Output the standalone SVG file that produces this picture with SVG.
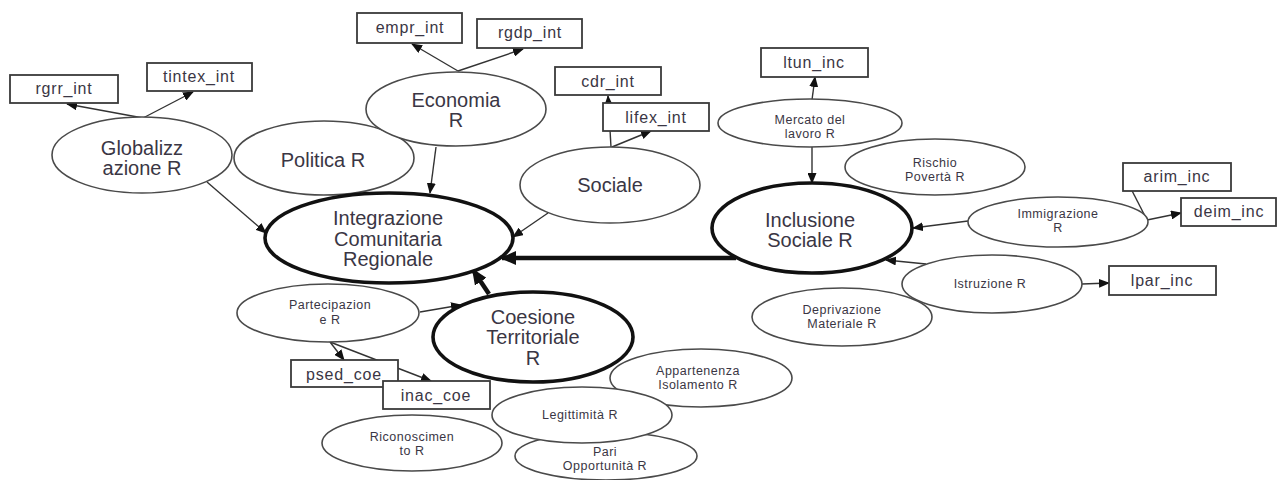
<svg xmlns="http://www.w3.org/2000/svg" width="1277" height="480" viewBox="0 0 1277 480">
  <style>
    .bg { fill: #ffffff; }
    .ell { fill: #ffffff; stroke: #4a4a4a; stroke-width: 1.6; }
    .main { fill: #ffffff; stroke: #111111; stroke-width: 3.6; }
    .box { fill: #ffffff; stroke: #3a3a3a; stroke-width: 1.8; }
    .edge { fill: none; stroke: #333333; stroke-width: 1.4; marker-end: url(#arr); }
    .plain { fill: none; stroke: #333333; stroke-width: 1.4; }
    .heavy { fill: none; stroke: #111111; stroke-width: 4.5; marker-end: url(#arrBig); }
    text { font-family: "Liberation Sans", Arial, sans-serif; fill: #3a3644; text-anchor: middle; }
    .big { font-size: 20px; }
    .small { font-size: 12.5px; letter-spacing: 0.5px; }
    .lbl { font-size: 16px; letter-spacing: 0.8px; }
  </style>
  <defs>
    <marker id="arr" markerUnits="userSpaceOnUse" markerWidth="11" markerHeight="9" refX="10" refY="4.5" orient="auto">
      <path d="M0,0 L11,4.5 L0,9 z" fill="#111111"/>
    </marker>
    <marker id="arrBig" markerUnits="userSpaceOnUse" markerWidth="16" markerHeight="14" refX="14" refY="7" orient="auto">
      <path d="M0,0 L16,7 L0,14 z" fill="#111111"/>
    </marker>
  </defs>
  <rect class="bg" x="0" y="0" width="1277" height="480"/>

  <!-- connectors -->
  <g id="connectors">
    <line class="edge" x1="143" y1="118" x2="67" y2="104"/>
    <line class="edge" x1="143" y1="118" x2="193" y2="92"/>
    <line class="edge" x1="207" y1="182" x2="266" y2="233"/>
    <line class="edge" x1="458" y1="71" x2="412" y2="44"/>
    <line class="edge" x1="458" y1="71" x2="523" y2="49"/>
    <line class="edge" x1="436" y1="147" x2="430" y2="193"/>
    <line class="edge" x1="611" y1="147" x2="608" y2="96"/>
    <line class="edge" x1="612" y1="147" x2="651" y2="131"/>
    <line class="edge" x1="548" y1="213" x2="513" y2="237"/>
    <line class="heavy" x1="736" y1="258" x2="502" y2="258"/>
    <line class="heavy" x1="489" y1="294" x2="473" y2="270"/>
    <line class="edge" x1="420" y1="312" x2="461" y2="305"/>
    <line class="edge" x1="330" y1="342" x2="344" y2="360"/>
    <line class="edge" x1="330" y1="342" x2="431" y2="381"/>
    <line class="edge" x1="812" y1="100" x2="815" y2="77"/>
    <line class="edge" x1="812" y1="147" x2="812" y2="183"/>
    <line class="edge" x1="968" y1="221" x2="913" y2="228"/>
    <line class="edge" x1="1147" y1="220" x2="1125" y2="177"/>
    <line class="edge" x1="1147" y1="220" x2="1181" y2="213"/>
    <line class="edge" x1="926" y1="264" x2="886" y2="260"/>
    <line class="edge" x1="1082" y1="284" x2="1109" y2="283"/>
  </g>

  <!-- indicator boxes -->
  <g id="rgrr_int"><rect class="box" x="10" y="75" width="108" height="28"/><text class="lbl" x="64" y="94">rgrr_int</text></g>
  <g id="tintex_int"><rect class="box" x="147" y="63" width="105" height="28"/><text class="lbl" x="199" y="82">tintex_int</text></g>
  <g id="empr_int"><rect class="box" x="357" y="13" width="105" height="30"/><text class="lbl" x="410" y="33">empr_int</text></g>
  <g id="rgdp_int"><rect class="box" x="477" y="19" width="105" height="29"/><text class="lbl" x="530" y="38">rgdp_int</text></g>
  <g id="cdr_int"><rect class="box" x="555" y="67" width="106" height="28"/><text class="lbl" x="608" y="87">cdr_int</text></g>
  <g id="lifex_int"><rect class="box" x="603" y="103" width="106" height="28"/><text class="lbl" x="656" y="123">lifex_int</text></g>
  <g id="ltun_inc"><rect class="box" x="761" y="48" width="107" height="29"/><text class="lbl" x="814" y="68">ltun_inc</text></g>
  <g id="arim_inc"><rect class="box" x="1123" y="163" width="108" height="28"/><text class="lbl" x="1177" y="182">arim_inc</text></g>
  <g id="deim_inc"><rect class="box" x="1181" y="198" width="95" height="28"/><text class="lbl" x="1229" y="217">deim_inc</text></g>
  <g id="lpar_inc"><rect class="box" x="1109" y="266" width="107" height="29"/><text class="lbl" x="1162" y="286">lpar_inc</text></g>
  <g id="psed_coe"><rect class="box" x="291" y="360" width="107" height="27"/><text class="lbl" x="344" y="380">psed_coe</text></g>
  <g id="inac_coe"><rect class="box" x="383" y="381" width="107" height="28"/><text class="lbl" x="436" y="401">inac_coe</text></g>

  <!-- latent factor nodes -->
  <g id="globalizzazione"><ellipse class="ell" cx="142" cy="155" rx="90" ry="38"/><text class="big" x="142" y="155">Globalizz</text><text class="big" x="142" y="175">azione R</text></g>
  <g id="politica"><ellipse class="ell" cx="324" cy="158" rx="90" ry="37"/><text class="big" x="323" y="167">Politica R</text></g>
  <g id="economia"><ellipse class="ell" cx="456" cy="109" rx="90" ry="37"/><text class="big" x="456" y="107">Economia</text><text class="big" x="456" y="127">R</text></g>
  <g id="sociale"><ellipse class="ell" cx="610" cy="185" rx="90" ry="38"/><text class="big" x="610" y="192">Sociale</text></g>
  <g id="integrazione"><ellipse class="main" cx="389" cy="238" rx="124" ry="45"/><text class="big" x="388" y="225">Integrazione</text><text class="big" x="388" y="246">Comunitaria</text><text class="big" x="388" y="266">Regionale</text></g>

  <g id="mercato_lavoro"><ellipse class="ell" cx="810" cy="123" rx="92" ry="24"/><text class="small" x="810" y="124">Mercato del</text><text class="small" x="810" y="138">lavoro R</text></g>
  <g id="rischio_poverta"><ellipse class="ell" cx="935" cy="167" rx="90" ry="28"/><text class="small" x="935" y="167">Rischio</text><text class="small" x="935" y="181">Povertà R</text></g>
  <g id="inclusione"><ellipse class="main" cx="812" cy="228" rx="100" ry="45"/><text class="big" x="810" y="227">Inclusione</text><text class="big" x="810" y="247">Sociale R</text></g>
  <g id="immigrazione"><ellipse class="ell" cx="1058" cy="222" rx="90" ry="25"/><text class="small" x="1058" y="218">Immigrazione</text><text class="small" x="1058" y="232">R</text></g>
  <g id="deprivazione"><ellipse class="ell" cx="842" cy="317" rx="90" ry="29"/><text class="small" x="842" y="314">Deprivazione</text><text class="small" x="842" y="328">Materiale R</text></g>
  <g id="istruzione"><ellipse class="ell" cx="992" cy="284" rx="90" ry="29"/><text class="small" x="990" y="288">Istruzione R</text></g>

  <g id="partecipazione"><ellipse class="ell" cx="328" cy="313" rx="91" ry="29"/><text class="small" x="330" y="309">Partecipazion</text><text class="small" x="330" y="324">e R</text></g>
  <g id="coesione"><ellipse class="main" cx="533" cy="337" rx="100" ry="45"/><text class="big" x="533" y="324">Coesione</text><text class="big" x="533" y="344">Territoriale</text><text class="big" x="533" y="365">R</text></g>
  <g id="riconoscimento"><ellipse class="ell" cx="412" cy="443" rx="90" ry="28"/><text class="small" x="412" y="441">Riconoscimen</text><text class="small" x="412" y="455">to R</text></g>
  <g id="appartenenza"><ellipse class="ell" cx="701" cy="378" rx="91" ry="29"/><text class="small" x="698" y="375">Appartenenza</text><text class="small" x="698" y="389">Isolamento R</text></g>
  <g id="pari_opportunita"><ellipse class="ell" cx="606" cy="456" rx="91" ry="24"/><text class="small" x="605" y="456">Pari</text><text class="small" x="605" y="470">Opportunità R</text></g>
  <g id="legittimita"><ellipse class="ell" cx="582" cy="415" rx="90" ry="28"/><text class="small" x="580" y="419">Legittimità R</text></g>
</svg>
